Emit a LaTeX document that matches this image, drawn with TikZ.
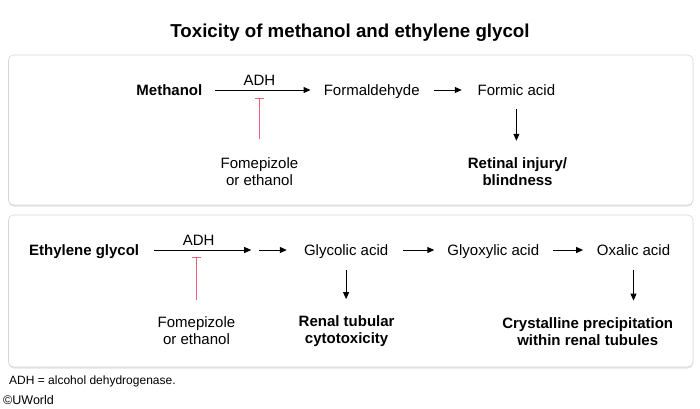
\documentclass[tikz,border=0pt]{standalone}
\usepackage{fontspec}
\setmainfont{Liberation Sans}
\usepackage{tikz}
\usetikzlibrary{arrows.meta,positioning,shadows}
\definecolor{inhibred}{RGB}{236,96,122}
\definecolor{boxline}{RGB}{214,214,214}
\tikzset{
  txt/.style={inner sep=0pt, font=\fontsize{15}{17}\selectfont, text height=11pt, text depth=0pt},
  boldtxt/.style={txt, font=\fontsize{15}{17}\selectfont\bfseries},
  twoline/.style={inner sep=0pt, font=\fontsize{15}{17}\selectfont, align=center},
  boldtwoline/.style={twoline, font=\fontsize{15}{17}\selectfont\bfseries},
  arr/.style={-{Triangle[length=7pt,width=6pt]}, line width=1pt},
  inhib/.style={{Bar[width=9pt]}-, draw=inhibred, line width=1pt},
  panel/.style={draw=boxline, fill=white, rounded corners=5pt, line width=0.6pt,
    drop shadow={opacity=0.22, shadow xshift=0pt, shadow yshift=-1.5pt}},
}

\begin{document}
\begin{tikzpicture}[x=1pt,y=-1pt]
    \useasboundingbox (0,0) rectangle (700,408);

    % Title
    \node[txt, font=\fontsize{18.7}{22}\selectfont\bfseries, text height=13.4pt] (title) at (350,30.5) {Toxicity of methanol and ethylene glycol};

    % Panels
    \draw[panel] (8.5,55) rectangle (693,205);
    \draw[panel] (8.5,215) rectangle (693,367);

    % Methanol pathway
    \node[boldtxt] (meth) at (169.4,90) {Methanol};
    \node[txt] (formald) at (371.7,90) {Formaldehyde};
    \node[txt] (formic) at (516.4,90) {Formic acid};
    \node[boldtwoline] (retinal) at (517.5,172) {Retinal injury/\\blindness};
    \node[twoline] (fome1) at (259.5,171.5) {Fomepizole\\or ethanol};

    \draw[arr, shorten <=12.4pt, shorten >=13pt] (meth) -- node[txt, above=4.5pt, pos=0.47] (adh1) {ADH} (formald);
    \draw[arr, shorten <=13.9pt, shorten >=15.7pt] (formald) -- (formic);
    \draw[arr, shorten <=13.5pt, shorten >=17pt] (formic.south) -- (formic.south |- retinal.north);
    \draw[inhib, shorten <=2.5pt, shorten >=18pt] (fome1.north |- meth.south) -- (fome1.north);

    % Ethylene glycol pathway
    \node[boldtxt] (eg) at (84.1,250) {Ethylene glycol};
    \coordinate (gapL) at (251.2,250);
    \coordinate (gapR) at (259.3,250);
    \node[txt] (glycolic) at (346.1,250) {Glycolic acid};
    \node[txt] (glyoxylic) at (493.3,250) {Glyoxylic acid};
    \node[txt] (oxalic) at (633.5,250) {Oxalic acid};
    \node[boldtwoline] (renal) at (346.6,331.5) {Renal tubular\\cytotoxicity};
    \node[boldtwoline] (crystal) at (587.7,331.5) {Crystalline precipitation\\within renal tubules};
    \node[twoline] (fome2) at (196.5,331) {Fomepizole\\or ethanol};

    \draw[arr, shorten <=14.8pt] (eg) -- node[txt, above=4.5pt, pos=0.53] (adh2) {ADH} (gapL);
    \draw[arr, shorten >=17pt] (gapR) -- (glycolic);
    \draw[arr, shorten <=14.9pt, shorten >=13pt] (glycolic) -- (glyoxylic);
    \draw[arr, shorten <=13.9pt, shorten >=13.5pt] (glyoxylic) -- (oxalic);
    \draw[arr, shorten <=14.5pt, shorten >=16.7pt] (glycolic.south) -- (glycolic.south |- renal.north);
    \draw[arr, shorten <=14.5pt, shorten >=16.7pt] (oxalic.south) -- (oxalic.south |- crystal.north);
    \draw[inhib, shorten <=1.5pt, shorten >=16.7pt] (fome2.north |- eg.south) -- (fome2.north);

    % Footnote
    \node[txt, anchor=west, font=\fontsize{12}{14}\selectfont, text height=8.6pt] (note) at (9,380) {ADH = alcohol dehydrogenase.};
    \node[txt, anchor=west, font=\fontsize{12.5}{14}\selectfont, text height=9pt] (copy) at (3,400) {\textcopyright UWorld};
\end{tikzpicture}
\end{document}
